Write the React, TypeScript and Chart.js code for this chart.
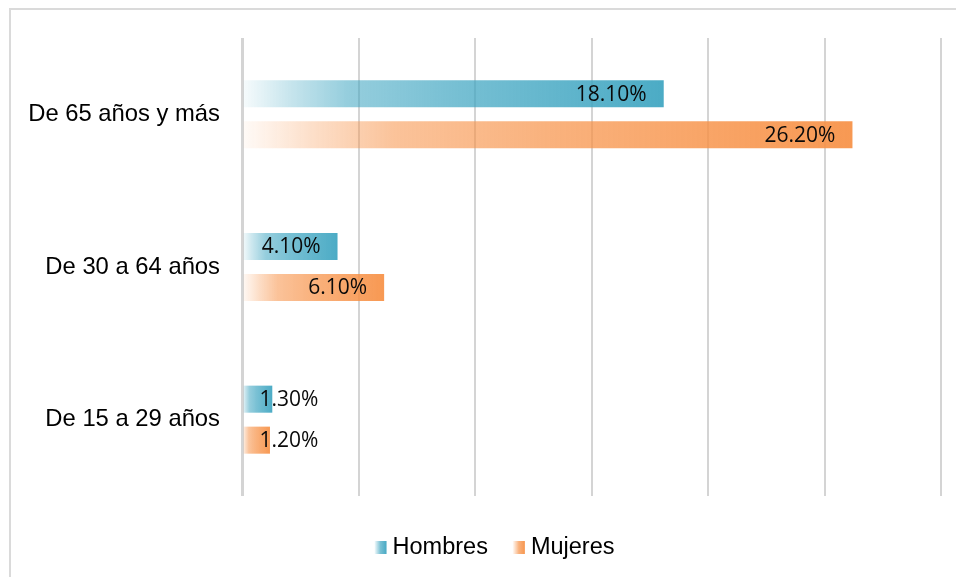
import React, { useEffect, useRef } from "react";
import { Chart, registerables } from "chart.js";

Chart.register(...registerables);

const categories = ["De 65 años y más", "De 30 a 64 años", "De 15 a 29 años"];
const seriesNames = ["Hombres", "Mujeres"];
const hombres = [18.1, 4.1, 1.3];
const mujeres = [26.2, 6.1, 1.2];
const axisMin = 0;
const axisMax = 30;
const axisStep = 5;

const TEAL: [number, number, number] = [62, 165, 193];
const ORANGE: [number, number, number] = [247, 145, 70];

const rgba = (c: [number, number, number], a: number) => `rgba(${c[0]},${c[1]},${c[2]},${a})`;

function barGradient(context: any, rgb: [number, number, number]) {
  const chart = context.chart;
  const xs = chart.scales && chart.scales.x;
  const v = context.raw;
  if (!xs || typeof v !== "number") return rgba(rgb, 0.9);
  const x0 = xs.getPixelForValue(0);
  const x1 = xs.getPixelForValue(v);
  if (!isFinite(x0) || !isFinite(x1) || x1 - x0 < 1) return rgba(rgb, 0.9);
  const g = chart.ctx.createLinearGradient(x0, 0, x1, 0);
  g.addColorStop(0, rgba(rgb, 0.04));
  g.addColorStop(0.12, rgba(rgb, 0.3));
  g.addColorStop(0.25, rgba(rgb, 0.55));
  g.addColorStop(0.5, rgba(rgb, 0.7));
  g.addColorStop(1, rgba(rgb, 0.93));
  return g;
}

const labelPlugin = {
  id: "valueLabels",
  afterDatasetsDraw(chart: any) {
    const ctx = chart.ctx;
    ctx.save();
    ctx.font = '21px "Open Sans"';
    ctx.fillStyle = "#0a0a0a";
    ctx.textBaseline = "middle";
    ctx.textAlign = "right";
    chart.data.datasets.forEach((ds: any, i: number) => {
      const meta = chart.getDatasetMeta(i);
      meta.data.forEach((bar: any, j: number) => {
        const v = ds.data[j];
        const text = v.toFixed(2) + "%";
        const w = ctx.measureText(text).width;
        const right = Math.max(bar.x - 17, bar.base + 16 + w);
        ctx.fillText(text, right, bar.y + 1);
      });
    });
    ctx.restore();
  },
};

const legendPlugin = {
  id: "gradLegend",
  afterDraw(chart: any) {
    const ctx = chart.ctx;
    ctx.save();
    ctx.font = '23.5px "Liberation Sans", Arial';
    ctx.textBaseline = "middle";
    ctx.textAlign = "left";
    const colors = [TEAL, ORANGE];
    const box = 12;
    const gapText = 6;
    const gapItems = 25;
    const widths = chart.data.datasets.map((ds: any) => ctx.measureText(ds.label).width);
    const total =
      widths.reduce((s: number, w: number) => s + box + gapText + w, 0) + gapItems * (widths.length - 1);
    let x = 494.5 - total / 2;
    const y = 547.5;
    chart.data.datasets.forEach((ds: any, i: number) => {
      const g = ctx.createLinearGradient(x, 0, x + box, 0);
      g.addColorStop(0, rgba(colors[i], 0.05));
      g.addColorStop(0.5, rgba(colors[i], 0.7));
      g.addColorStop(1, rgba(colors[i], 0.95));
      ctx.fillStyle = g;
      ctx.fillRect(x, y - 6.5, box, 13);
      ctx.fillStyle = "#000000";
      ctx.fillText(ds.label, x + box + gapText, y);
      x += box + gapText + widths[i] + gapItems;
    });
    ctx.restore();
  },
};

export default function App() {
  const ref = useRef<HTMLCanvasElement | null>(null);

  useEffect(() => {
    if (!ref.current) return;
    const chart = new Chart(ref.current, {
      type: "bar",
      data: {
        labels: categories,
        datasets: [
          {
            label: seriesNames[0],
            data: hombres,
            backgroundColor: (c: any) => barGradient(c, TEAL),
            borderWidth: 0,
            categoryPercentage: 0.537,
            barPercentage: 0.66,
          },
          {
            label: seriesNames[1],
            data: mujeres,
            backgroundColor: (c: any) => barGradient(c, ORANGE),
            borderWidth: 0,
            categoryPercentage: 0.537,
            barPercentage: 0.66,
          },
        ],
      },
      options: {
        indexAxis: "y",
        responsive: false,
        animation: false,
        layout: { padding: { left: 10, right: 15, top: 38, bottom: 81 } },
        plugins: {
          legend: { display: false },
          tooltip: { enabled: false },
        },
        scales: {
          x: {
            min: axisMin,
            max: axisMax,
            ticks: { display: false, stepSize: axisStep },
            grid: {
              color: "#d4d4d4",
              lineWidth: (c: any) => (c.tick && c.tick.value === 0 ? 3 : 2),
              drawTicks: false,
            },
            border: { display: false },
            afterFit: (s: any) => {
              s.height = 0;
            },
          },
          y: {
            grid: { display: false, drawTicks: false },
            border: { display: false },
            ticks: {
              font: { family: '"Liberation Sans", Arial', size: 23.8 },
              color: "#000000",
              padding: 22,
            },
            afterFit: (s: any) => {
              s.width = 232;
            },
          },
        },
      } as any,
      plugins: [labelPlugin, legendPlugin],
    });
    return () => chart.destroy();
  }, []);

  return (
    <div style={{ position: "fixed", left: 0, top: 0, width: 956, height: 577, overflow: "hidden", background: "#fff" }}>
      <div
        style={{
          position: "absolute",
          left: 9,
          top: 8,
          width: 1000,
          height: 700,
          borderLeft: "2px solid #dadada",
          borderTop: "2px solid #dadada",
        }}
      />
      <canvas ref={ref} width={956} height={577} style={{ position: "absolute", left: 0, top: 0, width: 956, height: 577 }} />
    </div>
  );
}
